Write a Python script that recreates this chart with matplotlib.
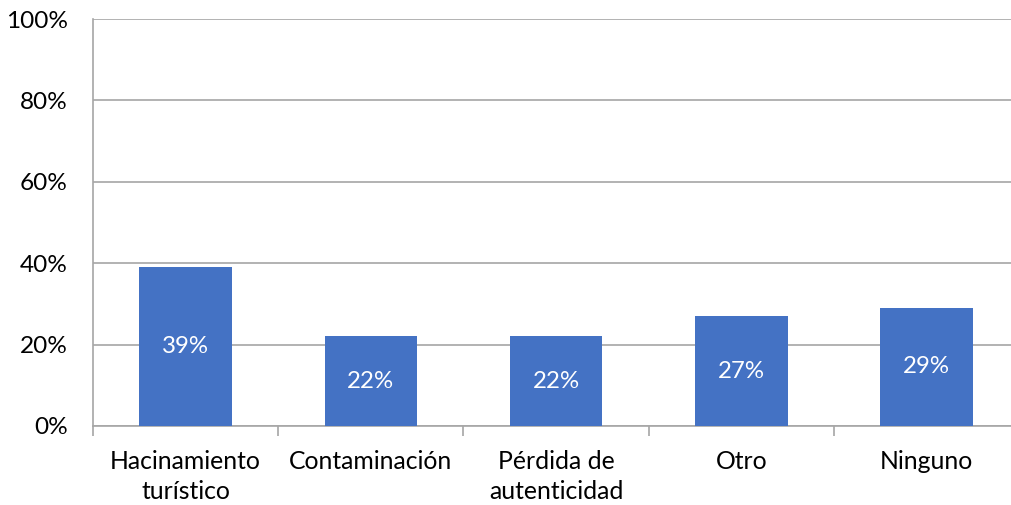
import matplotlib.pyplot as plt
from matplotlib.ticker import FixedLocator, NullFormatter

categories = ["Hacinamiento\nturístico", "Contaminación", "Pérdida de\nautenticidad", "Otro", "Ninguno"]
values = [39, 22, 22, 27, 29]
yticks = [0, 20, 40, 60, 80, 100]
ytick_labels = ["0%", "20%", "40%", "60%", "80%", "100%"]

plt.rcParams['font.family'] = ['Lato', 'DejaVu Sans']

fig = plt.figure(figsize=(10.12, 5.05), dpi=100)
ax = fig.add_axes([93/1012, 1 - 426/505, 926/1012, (426-19)/505])

x = list(range(len(categories)))
bars = ax.bar(x, values, width=0.5, color="#4472C4", zorder=3)
for xi, v in zip(x, values):
    ax.text(xi, v / 2, f"{v}%", ha="center", va="center", color="white", fontsize=17.3, zorder=4)

ax.set_xlim(-0.5, len(categories) - 0.5)
ax.set_ylim(0, 100)
ax.set_yticks(yticks)
ax.set_yticklabels(ytick_labels, fontsize=17.6)
ax.tick_params(axis="y", length=0, pad=18)
ax.yaxis.grid(True, color="#a6a6a6", linewidth=1.2, zorder=0)

ax.set_xticks(x)
ax.set_xticklabels(categories, fontsize=17.8, linespacing=1.4)
ax.tick_params(axis="x", which="major", length=0, pad=17)
ax.xaxis.set_minor_locator(FixedLocator([i - 0.5 for i in range(len(categories))]))
ax.xaxis.set_minor_formatter(NullFormatter())
ax.tick_params(axis="x", which="minor", length=7, color="#a6a6a6", width=1.2)

for s in ["top", "right"]:
    ax.spines[s].set_visible(False)
for s in ["left", "bottom"]:
    ax.spines[s].set_color("#a6a6a6")
    ax.spines[s].set_linewidth(1.2)

fig.savefig("out.png", dpi=100)
